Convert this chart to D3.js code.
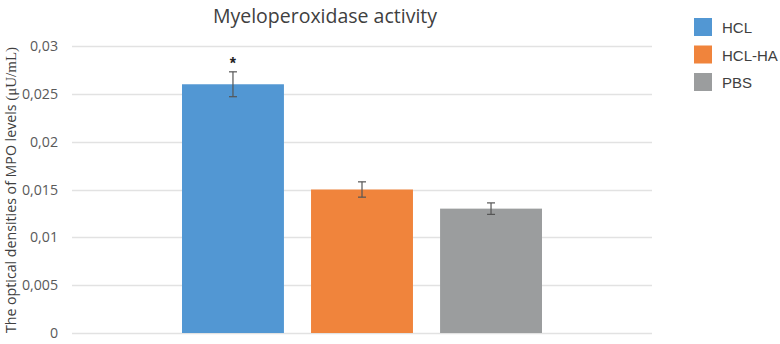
<!DOCTYPE html>
<html>
<head>
<meta charset="utf-8">
<script src="https://cdn.jsdelivr.net/npm/d3@7"></script>
<style>
  body { margin: 0; background: #fff; }
</style>
</head>
<body>
<div id="chart"></div>
<script>
// data
const groups = ["HCL", "HCL-HA", "PBS"];
const values = [0.026, 0.015, 0.013];
const errors = [0.0013, 0.0008, 0.0006];
const marks = ["*", "", ""];
const colors = ["#5297d3", "#f0843c", "#9b9d9e"];
const yTicks = [0, 0.005, 0.01, 0.015, 0.02, 0.025, 0.03];

const width = 780, height = 344;
const margin = { left: 72, right: 128, top: 46, bottom: 11 };

const svg = d3.select("#chart").append("svg")
    .attr("width", width)
    .attr("height", height);

const y = d3.scaleLinear()
    .domain([0, 0.03])
    .range([height - margin.bottom, margin.top]);

// one category, three series -> band scale over the series
const x = d3.scaleBand()
    .domain(groups)
    .range([182, 542])
    .paddingInner(0.21);

const fmt = d => String(+d.toFixed(3)).replace(".", ",");

// gridlines
svg.append("g")
    .selectAll("line")
    .data(yTicks)
    .enter().append("line")
    .attr("x1", margin.left)
    .attr("x2", width - margin.right)
    .attr("y1", d => Math.round(y(d)) + 0.5)
    .attr("y2", d => Math.round(y(d)) + 0.5)
    .attr("stroke", "#e2e2e2")
    .attr("stroke-width", 1.5);

// y axis labels
const yAxis = d3.axisLeft(y).tickValues(yTicks).tickFormat(fmt).tickSize(0).tickPadding(0);
const ga = svg.append("g")
    .attr("transform", "translate(58,0)")
    .call(yAxis);
ga.select(".domain").remove();
ga.selectAll("text")
    .attr("font-family", "'Open Sans', sans-serif")
    .attr("font-size", 14.2)
    .attr("fill", "#595959");

// bars
svg.append("g")
    .selectAll("rect")
    .data(groups)
    .enter().append("rect")
    .attr("x", d => x(d))
    .attr("width", x.bandwidth())
    .attr("y", (d, i) => y(values[i]))
    .attr("height", (d, i) => y(0) - y(values[i]))
    .attr("fill", (d, i) => colors[i]);

// error bars
const eb = svg.append("g")
    .attr("stroke", "#555")
    .attr("stroke-width", 1.2);
groups.forEach(function (g, i) {
    const cx = x(g) + x.bandwidth() / 2;
    const top = y(values[i] + errors[i]);
    const bot = y(values[i] - errors[i]);
    eb.append("line").attr("x1", cx).attr("x2", cx).attr("y1", top).attr("y2", bot);
    eb.append("line").attr("x1", cx - 4).attr("x2", cx + 4).attr("y1", top).attr("y2", top);
    eb.append("line").attr("x1", cx - 4).attr("x2", cx + 4).attr("y1", bot).attr("y2", bot);
});

// significance marks
svg.append("g")
    .selectAll("text")
    .data(groups)
    .enter().append("text")
    .attr("x", d => x(d) + x.bandwidth() / 2)
    .attr("y", (d, i) => y(values[i] + errors[i]) - 3)
    .attr("text-anchor", "middle")
    .attr("font-family", "'Liberation Sans', Arial, sans-serif")
    .attr("font-weight", "bold")
    .attr("font-size", 16)
    .attr("fill", "#222")
    .text((d, i) => marks[i]);

// title
svg.append("text")
    .attr("x", 325)
    .attr("y", 23)
    .attr("text-anchor", "middle")
    .attr("font-family", "'Open Sans', sans-serif")
    .attr("font-size", 19.5)
    .attr("fill", "#404040")
    .text("Myeloperoxidase activity");

// y axis title
const yt = svg.append("text")
    .attr("transform", "translate(16,190) rotate(-90)")
    .attr("text-anchor", "middle")
    .attr("font-family", "'Open Sans', sans-serif")
    .attr("font-size", 14.2)
    .attr("fill", "#404040");
yt.append("tspan").text("The optical densities of MPO levels ");
yt.append("tspan")
    .attr("font-family", "'Liberation Serif', 'DejaVu Serif', serif")
    .attr("font-size", 15)
    .text("(μU/mL)");

// legend
const lg = svg.append("g")
    .selectAll("g")
    .data(groups)
    .enter().append("g")
    .attr("transform", (d, i) => "translate(694," + (18 + i * 27.5) + ")");
lg.append("rect")
    .attr("width", 18)
    .attr("height", 18)
    .attr("fill", (d, i) => colors[i]);
lg.append("text")
    .attr("x", 28)
    .attr("y", 15)
    .attr("font-family", "'Liberation Sans', Arial, sans-serif")
    .attr("font-size", 15)
    .attr("fill", "#404040")
    .text(d => d);
</script>
</body>
</html>
